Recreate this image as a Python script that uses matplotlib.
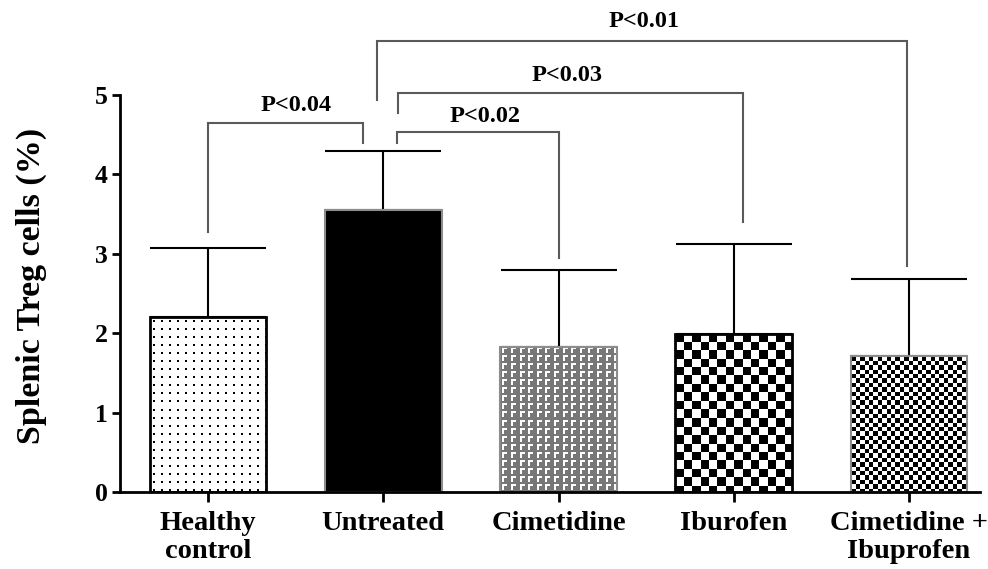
import numpy as np
import matplotlib
matplotlib.use("Agg")
import matplotlib.pyplot as plt

# ---- data ----
categories = ["Healthy\ncontrol", "Untreated", "Cimetidine", "Iburofen", "Cimetidine +\nIbuprofen"]
means = [2.21, 3.55, 1.83, 1.99, 1.71]
sds = [0.86, 0.74, 0.97, 1.13, 0.97]
comparisons = [(0, 1, "P<0.04"), (1, 2, "P<0.02"), (1, 3, "P<0.03"), (1, 4, "P<0.01")]
yticks = [0, 1, 2, 3, 4, 5]

FONT = "Liberation Serif"
W, H, DPI = 988, 569, 100
fig = plt.figure(figsize=(W / DPI, H / DPI), dpi=DPI)
ax = fig.add_axes([120 / W, (H - 492) / H, 860 / W, 397 / H])

x = np.arange(len(categories))
width = 0.667
ax.set_xlim(-0.502, 4.405)
ax.set_ylim(0, 5)

styles = ["dots", "solid", "gamma", "check8", "check4"]
edgecols = ["black", "#8c8c8c", "#8c8c8c", "black", "#8c8c8c"]
edgelw = [2.0, 1.5, 1.5, 2.0, 1.5]

bars = ax.bar(x, means, width, color=["white", "black", "#7a7a7a", "white", "white"],
              edgecolor="none", zorder=2)


def pattern(kind, w, h):
    yy, xx = np.mgrid[0:h, 0:w]
    img = np.ones((h, w, 3))
    if kind == "dots":
        m = ((xx - 3) % 8 < 2) & ((yy - 4) % 8 < 2)
        img[m] = 0.0
    elif kind == "gamma":
        img[:] = 0.47
        tx = xx % 8.6
        ty = yy % 8
        m = (((ty >= 1) & (ty < 3)) & (tx >= 2) & (tx < 7)) | (((tx >= 2) & (tx < 4)) & (ty >= 1) & (ty < 7))
        img[m] = 1.0
    elif kind == "check8":
        s = 8.4
        m = ((np.floor(xx / s) + np.floor(yy / s)) % 2) == 0
        img[m] = 0.0
    elif kind == "check4":
        s = 4.4
        m = ((np.floor(xx / s) + np.floor(yy / s)) % 2) == 0
        img[m] = 0.0
    return img


for b, kind in zip(bars, styles):
    if kind == "solid":
        continue
    x0, x1 = b.get_x(), b.get_x() + b.get_width()
    y0, y1 = 0, b.get_height()
    p0 = ax.transData.transform((x0, y0))
    p1 = ax.transData.transform((x1, y1))
    wpx = int(round(abs(p1[0] - p0[0])))
    hpx = int(round(abs(p1[1] - p0[1])))
    im = ax.imshow(pattern(kind, wpx, hpx), extent=(x0, x1, y0, y1), origin="upper",
                   aspect="auto", interpolation="nearest", zorder=2.1)
    im.set_clip_path(b)

ax.bar(x, means, width, fill=False, edgecolor=edgecols, linewidth=edgelw, zorder=2.3)

ax.errorbar(x, means, yerr=[np.zeros(len(sds)), sds], fmt="none", ecolor="black",
            elinewidth=1.5, capsize=42, capthick=1.5, zorder=1.5)

ax.set_xlim(-0.502, 4.405)
ax.set_ylim(0, 5)

# ---- significance brackets ----
bcol = "#5a5a5a"
# (x_left, x_right, y_top, y_left_bottom, y_right_bottom, text_x, text_y)
geom = [
    (0.0, 0.884, 4.647, 3.27, 4.395, 0.50, 4.87),
    (1.078, 2.0, 4.534, 4.395, 2.95, 1.58, 4.735),
    (1.084, 3.05, 5.025, 4.77, 3.40, 2.05, 5.24),
    (0.962, 3.99, 5.68, 4.94, 2.85, 2.49, 5.93),
]
for (i, j, label), (xl, xr, yt, ylb, yrb, tx, ty) in zip(comparisons, geom):
    ax.plot([xl, xl, xr, xr], [ylb, yt, yt, yrb], color=bcol, lw=1.5,
            clip_on=False, zorder=3, solid_joinstyle="miter")
    ax.text(tx, ty, label, ha="center", va="center", fontsize=17.5,
            fontweight="bold", family=FONT, clip_on=False)

# ---- axes styling ----
for s in ["top", "right"]:
    ax.spines[s].set_visible(False)
for s in ["left", "bottom"]:
    ax.spines[s].set_linewidth(2)
ax.set_yticks(yticks)
ax.set_yticklabels([str(t) for t in yticks], fontsize=18.5, fontweight="bold", family=FONT)
ax.set_xticks(x)
ax.set_xticklabels(categories, fontsize=20.5, fontweight="bold", family=FONT, linespacing=1.15)
ax.tick_params(axis="y", length=6, width=2, pad=3)
ax.tick_params(axis="x", length=7.5, width=2, pad=6.5)
ax.set_ylabel("Splenic Treg cells (%)", fontsize=24.5, fontweight="bold", family=FONT)
ax.yaxis.set_label_coords(-0.085, 0.52)

fig.savefig("out.png", dpi=DPI)
